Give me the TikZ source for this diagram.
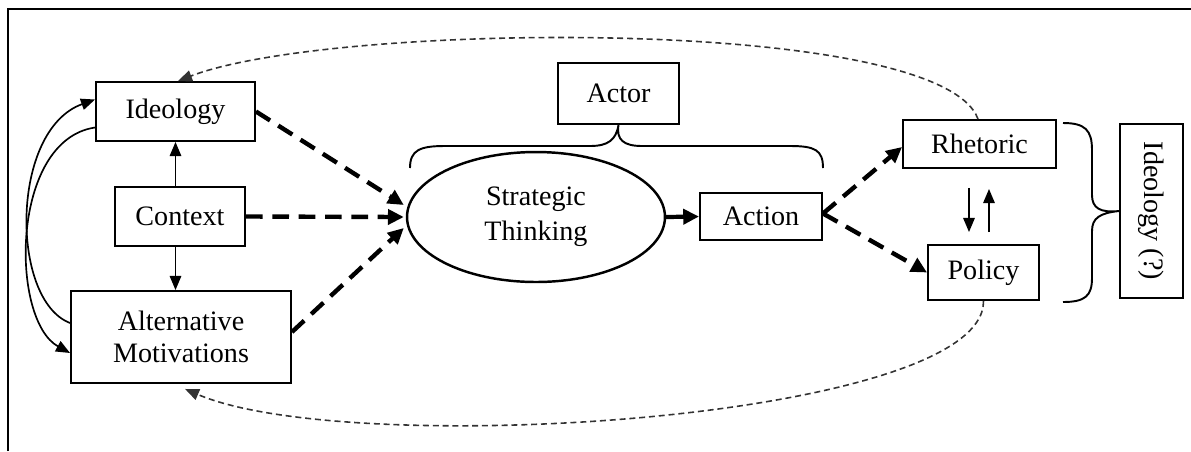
\documentclass[tikz,border=0pt]{standalone}
\usepackage{fontspec}
\setmainfont{Liberation Serif}
\usetikzlibrary{arrows.meta,shapes.geometric}
\begin{document}
\begin{tikzpicture}[x=0.02cm,y=-0.02cm,
  nodebox/.style={draw,line width=1.1pt,inner sep=0pt,align=center,
    font=\fontsize{16}{18}\selectfont},
  solidarrow/.style={line width=0.95pt,-{Triangle[length=8pt,width=6.5pt]}},
  bolddash/.style={line width=2.5pt,dash pattern=on 9.5pt off 5.5pt,
    -{Triangle[length=9pt,width=8.5pt]}},
  boldarrow/.style={line width=2.4pt,-{Triangle[length=9pt,width=8.5pt]}},
  returnpath/.style={line width=0.9pt,black!80,dash pattern=on 3.4pt off 2.2pt,
    -{Triangle[length=8pt,width=6.5pt]}},
  bracket/.style={line width=1.1pt}]

\useasboundingbox (0,0) rectangle (1191,451);

% frame (top and left edges)
\draw[line width=1.1pt] (8,451) -- (8,9) -- (1191,9);

% nodes
\node[nodebox,minimum width=3.18cm,minimum height=1.18cm] (ideo) at (175.5,111.5) {Ideology};
\node[nodebox,minimum width=2.6cm,minimum height=1.18cm] (ctx) at (180,216.5) {Context};
\node[nodebox,minimum width=4.4cm,minimum height=1.84cm] (alt) at (181,337) {Alternative\\Motivations};
\node[nodebox,minimum width=2.42cm,minimum height=1.22cm] (actor) at (618.5,93.5) {Actor};
\node[nodebox,ellipse,line width=1.4pt,minimum width=5.16cm,minimum height=2.6cm,
  font=\fontsize{16}{20}\selectfont] (st) at (536,217) {Strategic\\Thinking};
\node[nodebox,minimum width=2.44cm,minimum height=0.94cm] (action) at (761,216.5) {Action};
\node[nodebox,minimum width=3.06cm,minimum height=0.96cm] (rhet) at (979.5,144) {Rhetoric};
\node[nodebox,minimum width=2.22cm,minimum height=1.1cm] (policy) at (983.5,272.5) {Policy};
\node[nodebox,rotate=-90,minimum width=3.48cm,minimum height=1.26cm] (ideoq) at (1151.5,211) {Ideology (?)};

% context feeds ideology and alternative motivations
\draw[solidarrow] (ctx.north -| ideo.south) -- (ideo.south);
\draw[solidarrow] (ctx.south -| ideo.south) -- (alt.north -| ideo.south);

% mutual influence between ideology and alternative motivations
\draw[solidarrow] ([shift={(0,-14)}]alt.west) .. controls (10,300) and (10,130) .. ([shift={(0,-12)}]ideo.west);
\draw[solidarrow] ([shift={(0,16)}]ideo.west) .. controls (10,140) and (10,320) .. ([shift={(0,16)}]alt.west);

% inputs to strategic thinking
\draw[bolddash] (ideo.east) -- ([shift={(-2,-12)}]st.west);
\draw[bolddash] (ctx.east) -- ([shift={(-2,0)}]st.west);
\draw[bolddash] ([shift={(0,-5)}]alt.east) -- ([shift={(-2,11)}]st.west);

% actor bracket over strategic thinking and action
\draw[bracket] (410,168) .. controls (410,150) and (420,146) .. (445,146) -- (590,146)
  .. controls (608,146) and (616,140) .. (actor.south)
  .. controls (616,140) and (624,146) .. (642,146) -- (790,146)
  .. controls (815,146) and (823,150) .. (823,168);

\draw[boldarrow] (st.east) -- (action.west);

% action splits into rhetoric and policy
\draw[bolddash] ([shift={(0,-3)}]action.east) -- ([shift={(0,3)}]rhet.west);
\draw[bolddash] ([shift={(0,-3)}]action.east) -- (policy.west);

% rhetoric and policy
\draw[solidarrow] ([shift={(-10.5,19)}]rhet.south) -- ([shift={(-14.5,-12)}]policy.north);
\draw[solidarrow] ([shift={(5.5,-12)}]policy.north) -- ([shift={(9.5,20)}]rhet.south);

% bracket grouping rhetoric and policy (the rotated box's south side faces left)
\draw[bracket] (1063,123) .. controls (1085,123) and (1092,130) .. (1092,150) -- (1092,195)
  .. controls (1092,208) and (1100,213) .. (ideoq.south)
  .. controls (1100,213) and (1092,218) .. (1092,231) -- (1092,278)
  .. controls (1092,296) and (1085,302) .. (1063,302);

% feedback loops
\draw[returnpath] ([shift={(-1.5,0)}]rhet.north) .. controls (940,15) and (330,22) .. ([shift={(2.5,0)}]ideo.north);
\draw[returnpath] (policy.south) .. controls (985,420) and (350,460) .. ([shift={(4,5)}]alt.south);
\end{tikzpicture}
\end{document}
